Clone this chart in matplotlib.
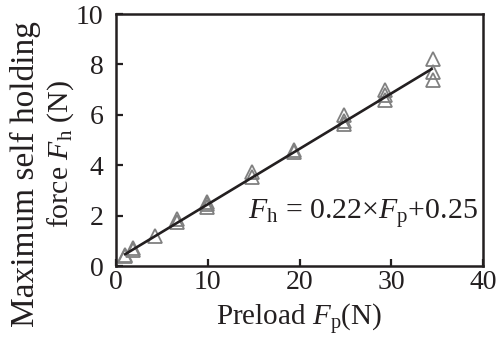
import matplotlib
matplotlib.use("Agg")
import matplotlib.pyplot as plt
import numpy as np

preload = [1.0, 1.0, 1.9, 1.9, 4.2, 6.6, 6.6, 9.9, 9.9, 9.9,
           14.8, 14.8, 19.4, 19.4, 24.8, 24.8, 24.8,
           29.3, 29.3, 29.3, 34.5, 34.5, 34.5]
holding = [0.38, 0.45, 0.62, 0.72, 1.18, 1.75, 1.85, 2.35, 2.45, 2.55,
           3.55, 3.72, 4.52, 4.6, 5.62, 5.75, 6.0,
           6.6, 6.8, 7.0, 7.38, 7.68, 8.2]

# fit: Fh = 0.22*Fp + 0.25
slope, intercept = 0.22, 0.25
fit_range = [1.0, 34.4]

plt.rcParams["font.family"] = ["Liberation Serif", "DejaVu Serif"]
plt.rcParams["mathtext.fontset"] = "custom"
plt.rcParams["mathtext.rm"] = "Liberation Serif"
plt.rcParams["mathtext.it"] = "Liberation Serif:italic"

ink = "#231f20"
fig = plt.figure(figsize=(5, 3.42), dpi=100)
ax = fig.add_axes([0.232, 0.222, 0.734, 0.737])

ax.plot(preload, holding, ls="none", marker="^", ms=9.5, mfc="none",
        mec="#808080", mew=1.3)
xf = np.array(fit_range)
ax.plot(xf, slope * xf + intercept, color=ink, lw=1.9)

ax.set_xlim(0, 40)
ax.set_ylim(0, 10)
ax.set_xticks([0, 10, 20, 30, 40])
ax.set_yticks([0, 2, 4, 6, 8, 10])
ax.tick_params(direction="in", length=5, width=1.6, labelsize=20,
               colors=ink)
ax.tick_params(axis="x", pad=3)
ax.tick_params(axis="y", pad=9)
for s in ax.spines.values():
    s.set_linewidth(1.8)
    s.set_color(ink)

ax.set_xlabel(r"Preload $F_{\rm p}$(N)", fontsize=21, color=ink,
              labelpad=5)

# two-line y label, drawn as separate lines like the original
fig.text(25 / 500, 1 - 174 / 342, "Maximum self holding", rotation=90,
         fontsize=24, ha="center", va="center", color=ink)
fig.text(61 / 500, 1 - 154 / 342, r"force $F_{\rm h}$ (N)", rotation=90,
         fontsize=21.5, ha="center", va="center", color=ink)

ax.text(39.4, 2.1, r"$F_{\rm h}$ = 0.22×$F_{\rm p}$+0.25", fontsize=21.5,
        ha="right", va="center", color=ink)

fig.savefig("out.png", facecolor="white")
